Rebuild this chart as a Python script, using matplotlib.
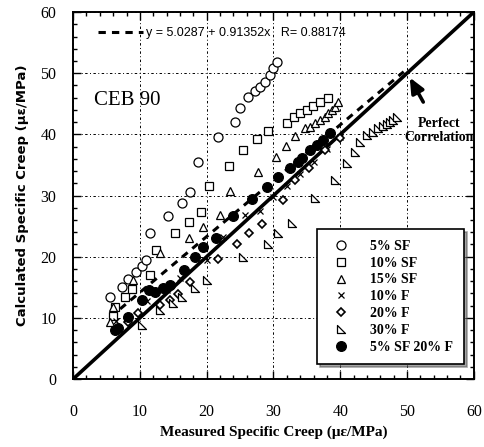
import matplotlib
matplotlib.use("Agg")
import matplotlib.pyplot as plt
import numpy as np
from matplotlib.path import Path
from matplotlib.ticker import MultipleLocator

# Data (measured vs calculated specific creep, ue/MPa)
sf5_x = [5.5, 7.3, 8.2, 9.4, 10.3, 10.9, 11.5, 14.2, 16.3, 17.5, 18.7, 21.7, 24.3, 25.0, 26.2, 27.2, 28.0, 28.7, 29.5, 29.9, 30.5]
sf5_y = [13.4, 15.0, 16.3, 17.5, 18.5, 19.4, 23.9, 26.6, 28.8, 30.6, 35.5, 39.5, 42.0, 44.3, 46.1, 47.1, 47.7, 48.5, 49.7, 50.8, 51.8]

sf10_x = [6.0, 6.3, 7.8, 8.8, 11.5, 12.4, 15.3, 17.4, 19.2, 20.4, 23.4, 25.4, 27.5, 29.2, 32.0, 33.1, 34.0, 35.0, 35.9, 37.0, 38.2]
sf10_y = [10.3, 11.8, 13.4, 14.7, 17.0, 21.1, 23.9, 25.7, 27.3, 31.5, 34.8, 37.4, 39.2, 40.5, 41.8, 42.8, 43.5, 44.0, 44.6, 45.3, 45.9]

sf15_x = [5.5, 6.0, 9.0, 13.0, 17.4, 19.5, 22.0, 23.5, 27.7, 30.4, 31.9, 33.2, 34.7, 35.5, 36.2, 37.0, 37.7, 38.2, 38.8, 39.2, 39.7]
sf15_y = [9.3, 11.8, 16.2, 20.6, 23.0, 24.8, 26.8, 30.7, 33.8, 36.3, 38.1, 39.7, 41.0, 41.2, 41.8, 42.3, 42.8, 43.5, 44.0, 44.4, 45.3]

f10_x = [6.5, 8.0, 10.3, 11.0, 14.0, 16.0, 20.0, 22.5, 25.7, 28.0, 30.0, 32.0, 34.0, 36.0, 38.0, 40.0]
f10_y = [9.5, 10.2, 12.9, 12.8, 14.5, 16.5, 19.5, 23.2, 26.8, 27.5, 29.8, 31.5, 33.5, 35.5, 37.6, 39.6]

f20_x = [6.6, 8.2, 9.7, 13.0, 14.5, 15.7, 17.5, 21.7, 24.6, 26.3, 28.3, 31.4, 33.2, 35.3, 37.7, 40.0]
f20_y = [8.0, 9.3, 10.8, 12.1, 12.9, 13.9, 15.8, 19.6, 22.1, 23.9, 25.3, 29.2, 32.5, 34.5, 37.4, 39.4]

f30_x = [10.3, 13.0, 15.0, 16.3, 18.3, 20.1, 25.4, 29.2, 30.7, 32.8, 36.2, 39.2, 41.0, 42.2, 43.0, 44.0, 44.9, 45.7, 46.4, 47.0, 47.5, 47.9, 48.5]
f30_y = [8.8, 11.3, 12.4, 13.4, 14.9, 16.2, 19.9, 22.1, 23.9, 25.5, 29.6, 32.5, 35.3, 37.1, 38.7, 39.9, 40.4, 41.0, 41.3, 41.7, 42.0, 42.3, 42.8]

sf5f20_x = [6.3, 6.7, 8.2, 10.3, 11.4, 12.3, 13.5, 14.5, 16.6, 18.3, 19.5, 21.4, 24.0, 26.8, 29.0, 30.7, 32.5, 33.7, 34.3, 35.5, 36.5, 37.4, 38.5]
sf5f20_y = [8.0, 8.3, 10.1, 12.9, 14.5, 14.2, 14.9, 15.4, 17.8, 19.9, 21.6, 23.0, 26.6, 29.4, 31.4, 33.0, 34.5, 35.5, 36.1, 37.4, 38.2, 39.1, 40.2]

# regression from the chart
fit_a = 5.0287
fit_b = 0.91352
fit_r = 0.88174
fit_range = [5.5, 49.5]

# 30% F marker: right triangle
tri_right = Path([(-1, 1), (-1, -1), (1, -1), (-1, 1)],
                 [Path.MOVETO, Path.LINETO, Path.LINETO, Path.CLOSEPOLY])

fig = plt.figure(figsize=(4.84, 4.47), dpi=100)
ax = fig.add_axes([0.151, 0.152, 0.828, 0.821])

serif = "Liberation Serif"

# perfect correlation line
ax.plot([0, 60], [0, 60], color="black", lw=2.6, zorder=4)

# regression line
xf = np.array(fit_range)
reg, = ax.plot(xf, fit_a + fit_b * xf, color="black", lw=2.2, ls=(0, (2.4, 2.0)), zorder=3)

mk = dict(ls="none", mec="black", mew=0.9, zorder=5)
h1, = ax.plot(sf5_x, sf5_y, marker="o", ms=6.5, mfc="white", label="5% SF", **mk)
h2, = ax.plot(sf10_x, sf10_y, marker="s", ms=6, mfc="white", label="10% SF", **mk)
h3, = ax.plot(sf15_x, sf15_y, marker="^", ms=5.5, mfc="white", label="15% SF", **mk)
h4, = ax.plot(f10_x, f10_y, marker="x", ms=5, label="10% F", **mk)
h5, = ax.plot(f20_x, f20_y, marker="D", ms=3.8, mfc="white", mew=1.2, ls="none", mec="black", zorder=5, label="20% F")
h6, = ax.plot(f30_x, f30_y, marker=tri_right, ms=5.5, mfc="white", label="30% F", **mk)
h7, = ax.plot(sf5f20_x, sf5f20_y, marker="o", ms=7, mfc="black", label="5% SF 20% F", **mk)

ax.set_xlim(0, 60)
ax.set_ylim(0, 60)
ax.xaxis.set_major_locator(MultipleLocator(10))
ax.yaxis.set_major_locator(MultipleLocator(10))
ax.xaxis.set_minor_locator(MultipleLocator(2))
ax.yaxis.set_minor_locator(MultipleLocator(2))
ax.tick_params(which="both", direction="in", top=True, right=True, width=1.0)
ax.tick_params(which="major", length=6)
ax.tick_params(which="minor", length=3)
ax.tick_params(axis="x", pad=18)
ax.tick_params(axis="y", pad=12)
for lab in ax.get_xticklabels() + ax.get_yticklabels():
    lab.set_fontfamily(serif)
    lab.set_fontsize(11.5)
for s in ax.spines.values():
    s.set_linewidth(1.4)

ax.grid(True, which="major", color="black", lw=0.7, ls=(0, (1, 2.5, 2.5, 2.5)))
ax.set_axisbelow(True)

ax.set_xlabel("Measured Specific Creep (\u03bc\u03b5/MPa)", fontfamily=serif, fontweight="bold", fontsize=11)
ax.set_ylabel("Calculated Specific Creep (\u03bc\u03b5/MPa)", fontfamily="DejaVu Sans", fontweight="bold", fontsize=9.5, labelpad=8)

ax.text(3.2, 45.6, "CEB 90", fontfamily=serif, fontsize=15, va="center", ha="left")

ax.annotate("Perfect\nCorrelation", xy=(50.4, 49.3), xytext=(54.8, 40.6),
            ha="center", va="center", fontfamily=serif, fontweight="bold", fontsize=10,
            linespacing=1.15,
            arrowprops=dict(arrowstyle="-|>,head_length=0.9,head_width=0.4", lw=2.6, color="black",
                            shrinkA=10, shrinkB=0))

# regression legend at the top
leg_fit = ax.legend([reg], ["y = %.4f + %.5fx   R= %.5f" % (fit_a, fit_b, fit_r)],
                    loc="upper left", bbox_to_anchor=(0.035, 0.99), frameon=False,
                    handlelength=3.6, handletextpad=0.25, prop={"family": "Liberation Sans", "size": 9})
ax.add_artist(leg_fit)

leg = ax.legend(handles=[h1, h2, h3, h4, h5, h6, h7], loc="lower right",
                bbox_to_anchor=(0.975, 0.04), frameon=True, fancybox=False, shadow=True,
                prop={"family": serif, "weight": "bold", "size": 10},
                handletextpad=1.1, labelspacing=0.28, borderpad=0.75, borderaxespad=0.0)
leg.get_frame().set_edgecolor("black")
leg.get_frame().set_linewidth(1.2)
leg.set_zorder(10)

fig.savefig("out.png", dpi=100)
